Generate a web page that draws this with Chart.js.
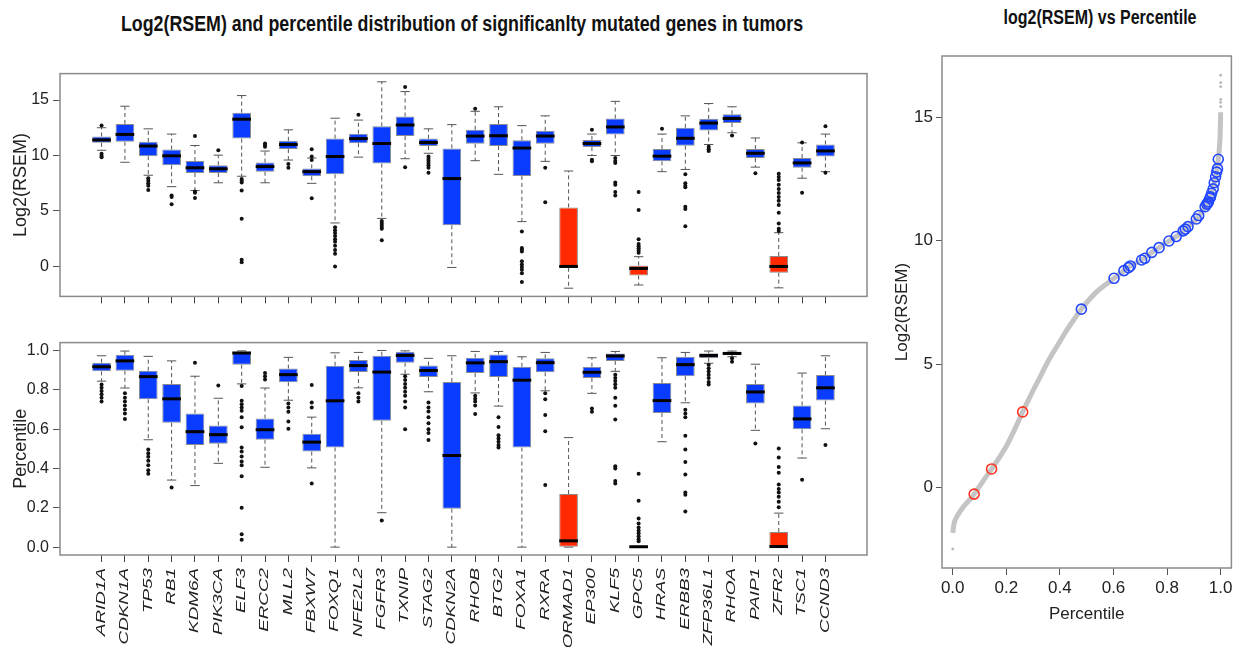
<!DOCTYPE html>
<html>
<head>
<meta charset="utf-8">
<script src="https://cdn.jsdelivr.net/npm/chart.js@4.4.1/dist/chart.umd.min.js"></script>
<style>
  body {
    margin: 0;
    width: 1238px;
    height: 647px;
    position: relative;
    overflow: hidden;
    background: #fff;
    font-family: "Liberation Sans", Arial, sans-serif;
  }
  canvas { position: absolute; }
  .title {
    position: absolute;
    font-weight: bold;
    color: #111;
    white-space: nowrap;
    line-height: 1;
  }
  #mainTitle { left: 462px; top: 24px; font-size: 22px; transform: translate(-50%, -50%) scaleX(0.81); }
  #sideTitle { left: 1100px; top: 17px; font-size: 20px; transform: translate(-50%, -50%) scaleX(0.8); }
</style>
</head>
<body>
<div class="title" id="mainTitle">Log2(RSEM) and percentile distribution of significanlty mutated genes in tumors</div>
<div class="title" id="sideTitle">log2(RSEM) vs Percentile</div>
<canvas id="rsemChart" width="880" height="250" style="left:0;top:60px"></canvas>
<canvas id="pctChart" width="880" height="318" style="left:0;top:329px"></canvas>
<canvas id="curveChart" width="358" height="607" style="left:880px;top:40px"></canvas>

<script>
const genes = [
  "ARID1A", "CDKN1A", "TP53", "RB1", "KDM6A", "PIK3CA", "ELF3", "ERCC2",
  "MLL2", "FBXW7", "FOXQ1", "NFE2L2", "FGFR3", "TXNIP", "STAG2", "CDKN2A",
  "RHOB", "BTG2", "FOXA1", "RXRA", "HORMAD1", "EP300", "KLF5", "GPC5",
  "HRAS", "ERBB3", "ZFP36L1", "RHOA", "PAIP1", "ZFR2", "TSC1", "CCND3",
];
const lowGenes = ["HORMAD1", "GPC5", "ZFR2"];

// Log2(RSEM) box stats
const rsemLow = [10.47, 9.39, 8.22, 7.19, 6.84, 7.54, 8.13, 7.54, 9.59, 7.49, 3.92, 9.85, 4.33, 9.71, 10.2, -0.09,
  9.53, 8.3, 4.04, 9.47, -1.96, 10.0, 10.0, -1.67, 8.54, 8.74, 10.99, 12.05, 8.95, -1.93, 7.95, 8.54];
const rsemQ1 = [11.14, 11.23, 9.94, 9.12, 8.42, 8.42, 11.52, 8.54, 10.58, 8.13, 8.3, 11.11, 9.27, 11.75, 10.85, 3.71,
  11.05, 10.85, 8.16, 11.05, -0.12, 10.76, 11.9, -0.82, 9.47, 10.88, 12.25, 12.92, 9.77, -0.56, 8.89, 9.91];
const rsemMedian = [11.4, 11.9, 10.85, 9.97, 8.89, 8.8, 13.27, 9.0, 10.99, 8.54, 9.91, 11.52, 11.08, 12.75, 11.17, 7.92,
  11.75, 11.78, 10.67, 11.75, 0.0, 11.08, 12.57, -0.18, 9.94, 11.55, 12.92, 13.33, 10.2, 0.0, 9.33, 10.41];
const rsemQ3 = [11.72, 12.84, 11.23, 10.53, 9.5, 9.12, 13.86, 9.36, 11.32, 8.83, 11.52, 11.96, 12.63, 13.51, 11.52, 10.64,
  12.31, 12.84, 11.37, 12.22, 5.32, 11.4, 13.33, 0.09, 10.58, 12.49, 13.3, 13.71, 10.58, 0.94, 9.77, 10.99];
const rsemHigh = [12.5, 14.44, 12.4, 11.93, 10.9, 10.03, 15.4, 10.4, 12.31, 9.77, 13.36, 13.19, 16.64, 15.76, 12.4, 12.78,
  13.98, 14.39, 12.69, 13.57, 8.6, 11.93, 14.88, 0.88, 11.93, 13.57, 14.68, 14.39, 11.58, 3.04, 11.14, 11.93];
const rsemOutliers = [
  [12.7, 10.15, 9.97, 9.85], [], [7.95, 7.72, 7.49, 7.28, 6.9], [6.4, 6.26, 5.61],
  [11.75, 6.75, 6.64, 6.17], [10.47], [7.87, 7.72, 7.57, 6.84, 4.3, 0.61, 0.38], [11.08, 10.94, 10.79],
  [9.24, 8.89], [10.56, 9.9, 9.6, 6.14], [3.54, 3.27, 3.01, 2.75, 2.46, 2.22, 1.87, 1.49, 1.14, 0.0], [13.68],
  [4.09, 3.91, 3.74, 3.56, 3.4, 2.37], [16.17, 8.95], [9.91, 9.7, 9.53, 9.33, 9.12, 8.89, 8.45], [],
  [14.21], [], [3.16, 1.67, 1.52, 1.35, 0.47, 0.18, -0.06, -0.29, -0.61, -1.4], [8.89, 5.79],
  [], [12.31, 9.62, 9.47], [9.77, 9.5, 9.33, 7.57, 7.37, 6.7, 6.4], [6.7, 5.09, 2.46, 2.02, 1.81, 1.64, 1.43, 1.23],
  [12.4], [8.3, 7.49, 7.28, 7.13, 5.38, 5.18, 3.63], [10.79, 10.56, 10.41], [11.81],
  [8.39], [8.36, 8.07, 7.78, 7.37, 6.99, 6.61, 6.26, 5.91, 5.53, 4.85, 3.86, 3.39, 3.19], [11.17, 6.64], [12.63, 8.45],
];
const rsemTicks = [0, 5, 10, 15];

// Percentile box stats
const pctLow = [0.844, 0.809, 0.546, 0.341, 0.313, 0.426, 0.83, 0.406, 0.747, 0.403, 0.0, 0.81, 0.175, 0.879, 0.79, 0.0,
  0.784, 0.717, 0.0, 0.795, 0.0, 0.782, 0.894, 0.0, 0.536, 0.734, 0.935, 0.968, 0.594, 0.0, 0.453, 0.602];
const pctQ1 = [0.894, 0.897, 0.752, 0.632, 0.519, 0.526, 0.927, 0.546, 0.839, 0.486, 0.507, 0.89, 0.642, 0.938, 0.865, 0.195,
  0.885, 0.865, 0.506, 0.889, 0.0, 0.86, 0.947, 0.0, 0.682, 0.869, 0.962, 0.977, 0.73, 0.0, 0.599, 0.745];
const pctMedian = [0.917, 0.947, 0.867, 0.754, 0.587, 0.572, 0.987, 0.597, 0.877, 0.534, 0.744, 0.923, 0.89, 0.975, 0.898, 0.466,
  0.937, 0.943, 0.849, 0.938, 0.032, 0.889, 0.972, 0.002, 0.745, 0.928, 0.975, 0.985, 0.789, 0.003, 0.652, 0.81];
const pctQ3 = [0.938, 0.978, 0.897, 0.829, 0.68, 0.619, 0.995, 0.654, 0.908, 0.577, 0.922, 0.952, 0.973, 0.993, 0.923, 0.84,
  0.963, 0.98, 0.917, 0.96, 0.27, 0.917, 0.985, 0.004, 0.834, 0.968, 0.985, 0.992, 0.83, 0.077, 0.72, 0.875];
const pctHigh = [0.973, 0.997, 0.97, 0.947, 0.869, 0.757, 0.998, 0.809, 0.965, 0.661, 0.988, 0.99, 1.0, 0.998, 0.96, 0.973,
  0.995, 0.995, 0.968, 0.99, 0.557, 0.963, 0.995, 0.004, 0.963, 0.99, 0.997, 0.997, 0.93, 0.173, 0.885, 0.973];
const pctOutliers = [
  [0.827, 0.81, 0.794, 0.777, 0.76, 0.74], [0.782, 0.76, 0.74, 0.72, 0.7, 0.68, 0.652],
  [0.497, 0.478, 0.459, 0.439, 0.416, 0.391, 0.373], [0.303], [0.938], [0.822],
  [0.819, 0.744, 0.727, 0.71, 0.694, 0.66, 0.609, 0.506, 0.486, 0.461, 0.436, 0.416, 0.361, 0.2, 0.065, 0.038],
  [0.885, 0.869, 0.852], [0.73, 0.71, 0.689, 0.639, 0.602], [0.824, 0.735, 0.71, 0.323], [],
  [0.782, 0.76, 0.74], [0.136], [0.869, 0.85, 0.83, 0.81, 0.79, 0.77, 0.74, 0.71, 0.599],
  [0.735, 0.71, 0.69, 0.66, 0.63, 0.6, 0.58, 0.545], [], [0.77, 0.755, 0.74, 0.72, 0.677],
  [0.661, 0.611, 0.569, 0.552, 0.536, 0.519, 0.506], [], [0.782, 0.752, 0.672, 0.589, 0.316], [],
  [0.705, 0.689], [0.877, 0.86, 0.845, 0.828, 0.81, 0.76, 0.719, 0.649, 0.411, 0.4, 0.336, 0.323],
  [0.373, 0.236, 0.146, 0.12, 0.1, 0.085, 0.07, 0.055, 0.04, 0.03], [],
  [0.699, 0.68, 0.66, 0.566, 0.497, 0.433, 0.369, 0.278, 0.266, 0.181],
  [0.927, 0.91, 0.893, 0.877, 0.86, 0.84, 0.827], [0.96, 0.943], [0.527],
  [0.502, 0.456, 0.408, 0.378, 0.319, 0.295, 0.278, 0.256, 0.231, 0.203], [0.343], [0.519],
];
const pctTicks = [0, 0.2, 0.4, 0.6, 0.8, 1.0];

// Genome-wide log2(RSEM) against percentile, with gene means on top
const curvePct = [0, 0.005, 0.016, 0.03, 0.042, 0.06, 0.08, 0.11, 0.145, 0.175, 0.201, 0.23, 0.261, 0.29, 0.322,
  0.36, 0.396, 0.427, 0.455, 0.48, 0.532, 0.57, 0.602, 0.639, 0.663, 0.705, 0.743, 0.77, 0.807, 0.834, 0.868,
  0.909, 0.942, 0.96, 0.976, 0.985, 0.991, 0.995, 0.998, 1.0];
const curveRsem = [-1.83, -1.45, -1.16, -0.92, -0.74, -0.52, -0.26, 0.22, 0.76, 1.24, 1.7, 2.33, 3.07, 3.72, 4.4,
  5.2, 5.85, 6.4, 6.85, 7.23, 7.88, 8.22, 8.48, 8.79, 8.98, 9.22, 9.53, 9.72, 9.99, 10.17, 10.47,
  10.88, 11.38, 11.72, 12.35, 12.78, 13.3, 13.75, 14.3, 15.2];
const tailPct = [0, 1.0, 1.0, 1.0, 1.0, 1.0, 1.0];
const tailRsem = [-2.48, 15.43, 15.6, 15.72, 16.24, 16.4, 16.7];
const highPct = [0.48, 0.602, 0.639, 0.656, 0.663, 0.705, 0.717, 0.743, 0.77, 0.807, 0.834, 0.86, 0.868, 0.878, 0.909,
  0.918, 0.942, 0.948, 0.952, 0.954, 0.96, 0.962, 0.966, 0.972, 0.976, 0.981, 0.985, 0.988, 0.991];
const highRsem = [7.23, 8.48, 8.79, 8.91, 8.98, 9.22, 9.29, 9.53, 9.72, 9.99, 10.17, 10.4, 10.47, 10.57, 10.88,
  11.02, 11.38, 11.48, 11.52, 11.58, 11.72, 11.78, 11.92, 12.1, 12.35, 12.59, 12.78, 12.92, 13.3];
const lowPct = [0.08, 0.145, 0.261];
const lowRsem = [-0.26, 0.76, 3.07];
const curveXTicks = [0, 0.2, 0.4, 0.6, 0.8, 1.0];
const curveYTicks = [0, 5, 10, 15];

Chart.defaults.font.family = '"Liberation Sans", Arial, sans-serif';
Chart.defaults.color = "#222";

const BLUE = "#0a3cff";
const RED = "#ff2a00";

// grey frame around the plotting region
const framePlugin = {
  id: "frame",
  afterDraw(chart) {
    const { ctx, chartArea: a } = chart;
    ctx.save();
    ctx.strokeStyle = "#8a8a8a";
    ctx.lineWidth = 1.5;
    ctx.strokeRect(a.left, a.top, a.right - a.left, a.bottom - a.top);
    ctx.restore();
  },
};

// dashed whiskers with caps, and thick median bars
function boxPartsPlugin(low, q1, med, q3, high) {
  return {
    id: "boxParts",
    beforeDatasetsDraw(chart) {
      const { ctx, scales } = chart;
      const bars = chart.getDatasetMeta(0).data;
      ctx.save();
      ctx.strokeStyle = "#555";
      ctx.lineWidth = 1;
      genes.forEach((g, i) => {
        const x = scales.x.getPixelForValue(i + 1);
        const cap = bars[i].width / 4;
        const yLo = scales.y.getPixelForValue(low[i]);
        const yHi = scales.y.getPixelForValue(high[i]);
        ctx.setLineDash([4, 3]);
        ctx.beginPath();
        ctx.moveTo(x, scales.y.getPixelForValue(q3[i]));
        ctx.lineTo(x, yHi);
        ctx.moveTo(x, scales.y.getPixelForValue(q1[i]));
        ctx.lineTo(x, yLo);
        ctx.stroke();
        ctx.setLineDash([]);
        ctx.beginPath();
        ctx.moveTo(x - cap, yHi);
        ctx.lineTo(x + cap, yHi);
        ctx.moveTo(x - cap, yLo);
        ctx.lineTo(x + cap, yLo);
        ctx.stroke();
      });
      ctx.restore();
    },
    afterDatasetsDraw(chart) {
      const { ctx, scales } = chart;
      const bars = chart.getDatasetMeta(0).data;
      ctx.save();
      ctx.strokeStyle = "#000";
      ctx.lineWidth = 3;
      genes.forEach((g, i) => {
        const y = scales.y.getPixelForValue(med[i]);
        ctx.beginPath();
        ctx.moveTo(bars[i].x - bars[i].width / 2, y);
        ctx.lineTo(bars[i].x + bars[i].width / 2, y);
        ctx.stroke();
      });
      ctx.restore();
    },
  };
}

// rotated, italic gene names under the lower panel
const geneLabelPlugin = {
  id: "geneLabels",
  afterDraw(chart) {
    const { ctx, chartArea, scales } = chart;
    ctx.save();
    ctx.font = 'italic 12px "Liberation Sans", Arial, sans-serif';
    ctx.fillStyle = "#222";
    ctx.textAlign = "right";
    ctx.textBaseline = "middle";
    genes.forEach((g, i) => {
      ctx.save();
      ctx.translate(scales.x.getPixelForValue(i + 1), chartArea.bottom + 13);
      ctx.rotate(-Math.PI / 2);
      ctx.scale(1.57, 1);
      ctx.fillText(g, 0, 0);
      ctx.restore();
    });
    ctx.restore();
  },
};

function makeBoxChart(id, stats, yRange, yTicks, yTitle, fmt, axisHeight, extraPlugins) {
  const [low, q1, med, q3, high, outliers] = stats;
  const colors = genes.map((g) => (lowGenes.includes(g) ? RED : BLUE));
  return new Chart(document.getElementById(id), {
    type: "bar",
    data: {
      datasets: [
        {
          type: "bar",
          data: genes.map((g, i) => ({ x: i + 1, y: [q1[i], q3[i]] })),
          backgroundColor: colors,
          borderColor: "#8c8c8c",
          borderWidth: 1,
          borderSkipped: false,
          barPercentage: 0.8,
          categoryPercentage: 1.0,
        },
        {
          type: "scatter",
          data: outliers.flatMap((vals, i) => vals.map((v) => ({ x: i + 1, y: v }))),
          pointRadius: 2,
          pointBackgroundColor: "#111",
          pointBorderWidth: 0,
        },
      ],
    },
    options: {
      responsive: false,
      animation: false,
      layout: { padding: { top: 10, right: 13 } },
      plugins: { legend: { display: false }, tooltip: { enabled: false } },
      scales: {
        x: {
          type: "linear",
          min: -0.78,
          max: 33.78,
          offset: false,
          afterBuildTicks: (s) => { s.ticks = genes.map((g, i) => ({ value: i + 1 })); },
          afterFit: (s) => { s.height = axisHeight; },
          ticks: { display: false },
          grid: { offset: false, drawOnChartArea: false, tickLength: 7, color: "#444" },
          border: { display: false },
        },
        y: {
          type: "linear",
          min: yRange[0],
          max: yRange[1],
          afterBuildTicks: (s) => { s.ticks = yTicks.map((v) => ({ value: v })); },
          afterFit: (s) => { s.width = 60; },
          ticks: { font: { size: 16 }, color: "#222", padding: 4, callback: fmt },
          grid: { drawOnChartArea: false, tickLength: 7, color: "#555" },
          border: { display: false },
          title: { display: true, text: yTitle, font: { size: 18 }, color: "#222", padding: { top: 10 } },
        },
      },
    },
    plugins: [boxPartsPlugin(low, q1, med, q3, high), framePlugin, ...extraPlugins],
  });
}

makeBoxChart(
  "rsemChart",
  [rsemLow, rsemQ1, rsemMedian, rsemQ3, rsemHigh, rsemOutliers],
  [-2.7, 17.38], rsemTicks, "Log2(RSEM)", (v) => String(v), 12, []
);

makeBoxChart(
  "pctChart",
  [pctLow, pctQ1, pctMedian, pctQ3, pctHigh, pctOutliers],
  [-0.04, 1.04], pctTicks, "Percentile", (v) => v.toFixed(1), 92, [geneLabelPlugin]
);

new Chart(document.getElementById("curveChart"), {
  type: "scatter",
  data: {
    datasets: [
      {
        data: highPct.map((x, i) => ({ x, y: highRsem[i] })),
        pointRadius: 5,
        pointBorderWidth: 1.6,
        pointBorderColor: "#2347ff",
        pointBackgroundColor: "rgba(0,0,0,0)",
      },
      {
        data: lowPct.map((x, i) => ({ x, y: lowRsem[i] })),
        pointRadius: 5,
        pointBorderWidth: 1.6,
        pointBorderColor: "#ff3420",
        pointBackgroundColor: "rgba(0,0,0,0)",
      },
      {
        data: tailPct.map((x, i) => ({ x, y: tailRsem[i] })),
        pointRadius: 1.4,
        pointBorderWidth: 0,
        pointBackgroundColor: "#b8b8b8",
      },
      {
        data: curvePct.map((x, i) => ({ x, y: curveRsem[i] })),
        showLine: true,
        borderColor: "#c4c4c4",
        borderWidth: 5,
        pointRadius: 0,
        cubicInterpolationMode: "monotone",
      },
    ],
  },
  options: {
    responsive: false,
    animation: false,
    layout: { padding: { top: 16, right: 4 } },
    plugins: { legend: { display: false }, tooltip: { enabled: false } },
    scales: {
      x: {
        type: "linear",
        min: -0.04,
        max: 1.04,
        afterBuildTicks: (s) => { s.ticks = curveXTicks.map((v) => ({ value: v })); },
        afterFit: (s) => { s.height = 79; },
        ticks: { font: { size: 17 }, color: "#222", padding: 3, callback: (v) => v.toFixed(1) },
        grid: { drawOnChartArea: false, tickLength: 7, color: "#555" },
        border: { display: false },
        title: { display: true, text: "Percentile", font: { size: 17 }, color: "#222", padding: { bottom: 22 } },
      },
      y: {
        type: "linear",
        min: -3.25,
        max: 17.48,
        afterBuildTicks: (s) => { s.ticks = curveYTicks.map((v) => ({ value: v })); },
        afterFit: (s) => { s.width = 62; },
        ticks: { font: { size: 17 }, color: "#222", padding: 3 },
        grid: { drawOnChartArea: false, tickLength: 6, color: "#555" },
        border: { display: false },
        title: { display: true, text: "Log2(RSEM)", font: { size: 17 }, color: "#222", padding: { top: 12 } },
      },
    },
  },
  plugins: [framePlugin],
});
</script>
</body>
</html>
